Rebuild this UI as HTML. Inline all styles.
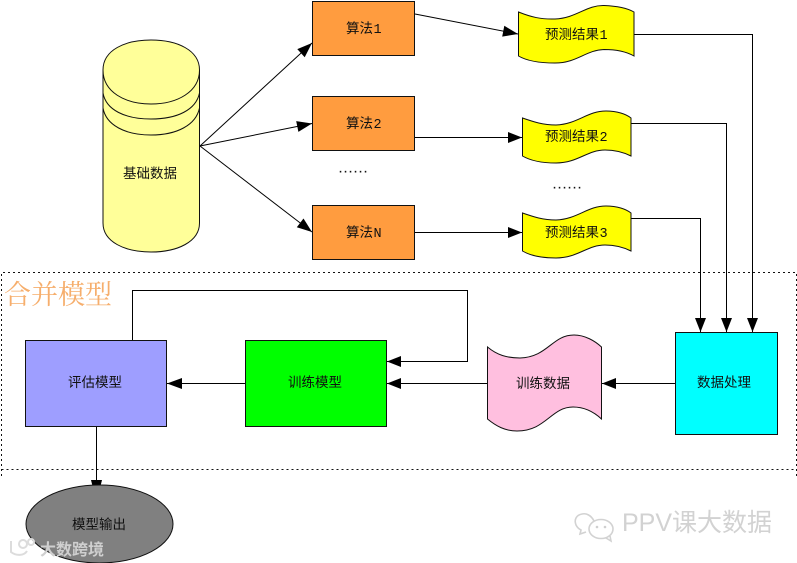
<!DOCTYPE html>
<html lang="zh">
<head>
<meta charset="utf-8">
<style>
html,body{margin:0;padding:0;background:#fff}
svg{display:block}
text{font-family:"Liberation Sans","Noto Sans CJK SC",sans-serif;font-size:13.5px;fill:#111}
.d{font-family:"Liberation Mono",monospace;font-size:13.5px}
</style>
</head>
<body>
<svg width="797" height="563" viewBox="0 0 797 563" xmlns="http://www.w3.org/2000/svg">
<rect width="797" height="563" fill="#fff"/>

<!-- dashed group -->
<g fill="none" stroke="#111" stroke-width="1" stroke-dasharray="2 3">
  <path d="M1.5 476V272.5H796.5V476"/>
  <path d="M1.5 469.5H796.5"/>
</g>
<text x="4" y="304" style="font-family:'Liberation Serif','Noto Serif CJK SC',serif;font-size:27px;fill:#f6ae6c">合并模型</text>

<!-- cylinder -->
<g stroke="#111" stroke-width="1">
  <path d="M103 70C103 50 125 40 151 40C177 40 199.5 50 199.5 70V223C199.5 242 177 252 151 252C125 252 103 242 103 223Z" fill="#ffff99"/>
  <path d="M103 70C103 92 125 104 151 104C177 104 199.5 92 199.5 70" fill="none"/>
  <path d="M103 93C106 110 125 119 151 119C177 119 196 110 199.5 93" fill="none"/>
  <path d="M103 108C106 125 125 135 151 135C177 135 196 125 199.5 108" fill="none"/>
</g>
<text x="123" y="178">基础数据</text>

<!-- connectors -->
<g fill="none" stroke="#000" stroke-width="1">
  <path d="M200 146L312 43"/>
  <path d="M200 146L312 123.5"/>
  <path d="M200 146L312 232"/>
  <path d="M415 14L518 34"/>
  <path d="M414 137.5H522"/>
  <path d="M414 232.5H522"/>
  <path d="M634 34.5H752.5V332"/>
  <path d="M631 123.5H726.5V332"/>
  <path d="M631 218.5H700.5V332"/>
  <path d="M675 383.5H602"/>
  <path d="M487 383.5H387"/>
  <path d="M245 383.5H167"/>
  <path d="M132.5 340V290.5H467.5V361.5H387"/>
  <path d="M96.5 426V485"/>
</g>

<!-- arrowheads -->
<g fill="#000">
  <polygon points="312,43 304.7,57.2 297.3,49.1"/>
  <polygon points="312,123.5 298.4,131.9 296.2,121.1"/>
  <polygon points="312,232 296.8,227.3 303.5,218.5"/>
  <polygon points="518,34 502.2,36.6 504.3,25.8"/>
  <polygon points="522,137.5 508,132 508,143"/>
  <polygon points="522,232.5 508,227 508,238"/>
  <polygon points="700.5,332 695,318 706,318"/>
  <polygon points="726.5,332 721,318 732,318"/>
  <polygon points="752.5,332 747,318 758,318"/>
  <polygon points="602,383.5 616,378 616,389"/>
  <polygon points="387,383.5 401,378 401,389"/>
  <polygon points="387,361.5 401,356 401,367"/>
  <polygon points="167,383.5 182,378 182,389"/>
  <polygon points="91,480 102,480 100,488 93,488"/>
</g>

<!-- algorithm boxes -->
<g fill="#ff9c3f" stroke="#111" stroke-width="1">
  <rect x="312.5" y="1.5" width="102" height="54"/>
  <rect x="312.5" y="96.5" width="102" height="54"/>
  <rect x="312.5" y="205.5" width="102" height="54"/>
</g>
<text x="346" y="33">算法<tspan class="d" dx="0.5">1</tspan></text>
<text x="346" y="128">算法<tspan class="d" dx="0.5">2</tspan></text>
<text x="346" y="237">算法<tspan class="d" dx="0.5">N</tspan></text>

<text x="339" y="172.500" style="font-size:11px;font-weight:bold;letter-spacing:1.95px">......</text>
<text x="553" y="188.500" style="font-size:11px;font-weight:bold;letter-spacing:1.95px">......</text>

<!-- result documents -->
<g fill="#ffff00" stroke="#111" stroke-width="1">
  <path d="M518.5 12C531 17 541 19.5 555 19C577 18 586 5 604 5.500C617 6 627 8 634 12V56C627 52 617 49.500 604 49.500C586 50 577 63 555 63C541 63 527 61 518.5 56Z"/>
  <path d="M522.5 118C534 122 543 125 556 125C578 124 587 111 606 111C617 111 626 114 631 118V156C625 153 617 150 605 150C587 150 578 163 556 163C542 163 531 161 522.5 156Z"/>
  <path d="M522.5 213C534 217 543 220 556 220C578 219 587 206 606 206C617 206 626 209 631 213V251C625 248 617 245 605 245C587 245 578 258 556 258C542 258 531 256 522.5 251Z"/>
</g>
<text x="545" y="39">预测结果<tspan class="d" dx="0.5">1</tspan></text>
<text x="545" y="141">预测结果<tspan class="d" dx="0.5">2</tspan></text>
<text x="545" y="237">预测结果<tspan class="d" dx="0.5">3</tspan></text>

<!-- model row -->
<rect x="25.500" y="340.500" width="141" height="86" fill="#9e9eff" stroke="#111"/>
<text x="68" y="387">评估模型</text>
<rect x="245.500" y="340.500" width="141" height="86" fill="#00ff00" stroke="#111"/>
<text x="288" y="387">训练模型</text>
<path d="M487.500 347C497 355 507 358 520 358C548 357 552 335 574 335C585 335 595 341 601.500 347V419C594 412 585 407 573 407C551 407 546 431 517 431C505 431 496 426 487.500 419Z" fill="#ffbfdf" stroke="#111"/>
<text x="516" y="388">训练数据</text>
<rect x="675.500" y="332.500" width="102" height="102" fill="#00ffff" stroke="#111"/>
<text x="697" y="387">数据处理</text>

<!-- output ellipse -->
<ellipse cx="99.500" cy="524" rx="73.500" ry="39" fill="#808080" stroke="#111"/>
<text x="72" y="529">模型输出</text>

<!-- watermarks -->
<g fill="none" stroke="#d2d2d2" stroke-width="1.600">
  <path d="M594 521C591 515 586 513 582 514C576 515 574 520 576 525C577 527 579 529 581 530L580 534L586 532"/>
  <ellipse cx="601" cy="529" rx="12" ry="9.500"/>
  <path d="M606 538L611 541L610 536"/>
</g>
<g fill="#cfcfcf">
  <circle cx="597" cy="527" r="1.300"/>
  <circle cx="605" cy="527" r="1.300"/>
</g>
<text x="622" y="531" style="font-size:25px;fill:#d2d2d2">PPV课大数据</text>

<g fill="none" stroke="#dcdcdc" stroke-width="2">
  <path d="M11 541V552C16 556 24 556 27 551"/>
  <circle cx="23" cy="544" r="4"/>
  <circle cx="31" cy="542" r="3"/>
</g>
<text x="40" y="555" style="font-size:16px;font-weight:bold;fill:#cfcfcf">大数跨境</text>
</svg>
</body>
</html>
